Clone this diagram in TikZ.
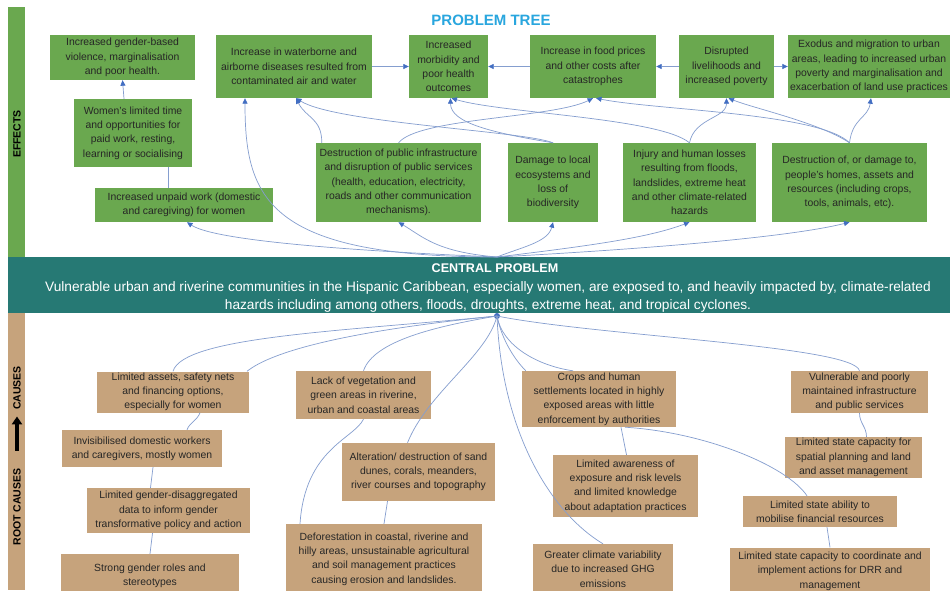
\documentclass[tikz,border=0pt]{standalone}
\usepackage{fontspec}
\setmainfont{Liberation Sans}
\usetikzlibrary{arrows.meta}

\definecolor{effgreen}{RGB}{106,168,79}
\definecolor{causetan}{RGB}{198,163,124}
\definecolor{coreteal}{RGB}{38,121,116}
\definecolor{titleblue}{RGB}{41,166,222}
\definecolor{linkblue}{RGB}{133,158,207}
\definecolor{tipblue}{RGB}{66,110,194}
\definecolor{boxtext}{RGB}{38,38,38}
\newcommand{\BoxFont}{\fontsize{10.4}{14.3}\selectfont}

\tikzset{
  effect/.style={fill=effgreen, text=boxtext, font=\BoxFont, align=center, inner sep=1pt},
  cause/.style={fill=causetan, text=boxtext, font=\BoxFont, align=center, inner sep=1pt},
  rootline/.style={draw=linkblue, line width=0.7pt},
  effectline/.style={rootline, -{Triangle[length=5.5pt,width=5pt,color=tipblue]}},
  sidelabel/.style={rotate=90, font=\bfseries\fontsize{10.5}{12}\selectfont}
}

\begin{document}
\begin{tikzpicture}[x=1pt, y=-1pt]
\clip (0,0) rectangle (950,590);
\fill[white] (0,0) rectangle (950,590);

% side bars and central band
\fill[effgreen] (8,7) rectangle (25,257);
\fill[coreteal] (8,257) rectangle (950,313);
\fill[causetan] (8,313) rectangle (25,590);
\node[sidelabel] (efflbl) at (17,134) {EFFECTS};
\node[sidelabel] (causelbl) at (17,388) {CAUSES};
\node[sidelabel] (rootlbl) at (17,507) {ROOT CAUSES};
\draw[line width=4pt, -{Triangle[length=8pt,width=10pt]}, shorten <=14pt, shorten >=3pt] (rootlbl.east) -- (causelbl.west);

\node[font=\bfseries\fontsize{15}{18}\selectfont, text=titleblue] (title) at (491,20) {PROBLEM TREE};

\node[text=white, align=center, font=\fontsize{13.7}{18.5}\selectfont] (core) at (488,288.5)
  {{\bfseries\fontsize{12.6}{18.5}\selectfont\hspace*{14pt}CENTRAL PROBLEM}\\
   Vulnerable urban and riverine communities in the Hispanic Caribbean, especially women, are exposed to, and heavily impacted by, climate-related\\
   hazards including among others, floods, droughts, extreme heat, and tropical cyclones.};
\coordinate (hubtop) at (497,257);
\coordinate (hubbot) at (497,316);

% effects, top row
\node[effect, minimum width=145, minimum height=45] (gbv) at (122.5,57.5)
  {Increased gender-based\\violence, marginalisation\\and poor health.};
\node[effect, minimum width=156, minimum height=63] (disease) at (294,66.5)
  {Increase in waterborne and\\airborne diseases resulted from\\contaminated air and water};
\node[effect, minimum width=79, minimum height=63] (morbid) at (448.5,66.5)
  {Increased\\morbidity and\\poor health\\outcomes};
\node[effect, minimum width=126, minimum height=63] (prices) at (593,66.5)
  {Increase in food prices\\and other costs after\\catastrophes};
\node[effect, minimum width=95, minimum height=63] (liveli) at (726.5,66.5)
  {Disrupted\\livelihoods and\\increased poverty};
\node[effect, minimum width=162, minimum height=63] (exodus) at (869,66.5)
  {Exodus and migration to urban\\areas, leading to increased urban\\poverty and marginalisation and\\exacerbation of land use practices};

% effects, lower rows
\node[effect, minimum width=118, minimum height=68] (womtime) at (133,133)
  {Women's limited time\\and opportunities for\\paid work, resting,\\learning or socialising};
\node[effect, minimum width=178, minimum height=34] (unpaid) at (184,205)
  {Increased unpaid work (domestic\\and caregiving) for women};
\node[effect, minimum width=165, minimum height=79] (infra) at (398.5,182.5)
  {Destruction of public infrastructure\\and disruption of public services\\(health, education, electricity,\\roads and other communication\\mechanisms).};
\node[effect, minimum width=90, minimum height=79] (ecosys) at (553,182.5)
  {Damage to local\\ecosystems and\\loss of\\biodiversity};
\node[effect, minimum width=133, minimum height=79] (injury) at (689.5,182.5)
  {Injury and human losses\\resulting from floods,\\landslides, extreme heat\\and other climate-related\\hazards};
\node[effect, minimum width=155, minimum height=79] (homes) at (849.5,182.5)
  {Destruction of, or damage to,\\people's homes, assets and\\resources (including crops,\\tools, animals, etc).};

% causes
\node[cause, minimum width=152, minimum height=41] (assets) at (173,392)
  {Limited assets, safety nets\\and financing options,\\especially for women};
\node[cause, minimum width=160, minimum height=37] (domestic) at (142,448.5)
  {Invisibilised domestic workers\\and caregivers, mostly women};
\node[cause, minimum width=163, minimum height=45] (data) at (168.5,510.5)
  {Limited gender-disaggregated\\data to inform gender\\transformative policy and action};
\node[cause, minimum width=178, minimum height=44] (roles) at (150,576)
  {Strong gender roles and\\stereotypes};
\node[cause, minimum width=135, minimum height=48] (veget) at (363.5,395)
  {Lack of vegetation and\\green areas in riverine,\\urban and coastal areas};
\node[cause, minimum width=153, minimum height=58] (dunes) at (418.5,472)
  {Alteration/ destruction of sand\\dunes, corals, meanders,\\river courses and topography};
\node[cause, minimum width=196, minimum height=70] (forest) at (384,559)
  {Deforestation in coastal, riverine and\\hilly areas, unsustainable agricultural\\and soil management practices\\causing erosion and landslides.};
\node[cause, minimum width=154, minimum height=56] (settle) at (599,399)
  {Crops and human\\settlements located in highly\\exposed areas with little\\enforcement by authorities};
\node[cause, minimum width=145, minimum height=62] (aware) at (625.5,486)
  {Limited awareness of\\exposure and risk levels\\and limited knowledge\\about adaptation practices};
\node[cause, minimum width=140, minimum height=50] (climvar) at (603,569)
  {Greater climate variability\\due to increased GHG\\emissions};
\node[cause, minimum width=137, minimum height=42] (vulinfra) at (859.5,392)
  {Vulnerable and poorly\\maintained infrastructure\\and public services};
\node[cause, minimum width=137, minimum height=41] (spatial) at (853.5,457.5)
  {Limited state capacity for\\spatial planning and land\\and asset management};
\node[cause, minimum width=154, minimum height=31] (finance) at (820,511.5)
  {Limited state ability to\\mobilise financial resources};
\node[cause, minimum width=200, minimum height=47] (coord) at (830,571)
  {Limited state capacity to coordinate and\\implement actions for DRR and\\management};

% central problem to effects
\draw[effectline] (hubtop) .. controls +(-120,-5) and +(30,20) .. ([xshift=3]unpaid.south);
\draw[effectline] (hubtop) .. controls +(-230,0) and +(0,100) .. ([xshift=-49]disease.south);
\draw[effectline] (hubtop) .. controls +(-60,-5) and +(25,15) .. (infra.south);
\draw[effectline] (hubtop) .. controls +(25,-10) and +(-5,20) .. (ecosys.south);
\draw[effectline] (hubtop) .. controls +(100,-12) and +(-40,15) .. (injury.south);
\draw[effectline] (hubtop) .. controls +(150,-8) and +(-60,15) .. (homes.south);

% effects to effects
\draw[rootline] ([xshift=-16]unpaid.north) -- ([xshift=35]womtime.south);
\draw[effectline] ([xshift=-9]womtime.north) -- (gbv.south);
\draw[effectline] ([xshift=6]infra.north west) .. controls +(0,-25) and +(10,20) .. ([xshift=2]disease.south);
\draw[effectline] (ecosys.north) .. controls +(-30,-12) and +(40,25) .. ([xshift=2]disease.south);
\draw[effectline] (ecosys.north) .. controls +(-60,-10) and +(0,25) .. ([xshift=2]morbid.south);
\draw[effectline] (injury.north) .. controls +(-30,-25) and +(50,15) .. ([xshift=3]morbid.south);
\draw[effectline] (infra.north) .. controls +(20,-25) and +(-40,20) .. (prices.south);
\draw[effectline] (homes.north) .. controls +(-30,-30) and +(60,12) .. ([xshift=3]prices.south);
\draw[effectline] (injury.north) .. controls +(5,-25) and +(0,20) .. (liveli.south);
\draw[effectline] (homes.north) .. controls +(-30,-20) and +(25,10) .. ([xshift=2]liveli.south);
\draw[effectline] (homes.north) .. controls +(3,-25) and +(-3,20) .. ([xshift=2]exodus.south);
\foreach \src/\dst in {disease/morbid, prices/morbid, liveli/prices, liveli/exodus}
  \draw[effectline] (\src) -- (\dst);

% central problem to causes
\fill[tipblue] (hubbot) circle (3);
\draw[rootline] (hubbot) .. controls +(-150,15) and +(10,-35) .. (assets.north);
\draw[rootline] (hubbot) .. controls +(-150,15) and +(25,-20) .. ([xshift=74]assets.north);
\draw[rootline] (hubbot) .. controls +(-60,10) and +(10,-30) .. (veget.north);
\draw[rootline] (hubbot) .. controls +(-10,40) and +(20,-50) .. ([xshift=-11]dunes.north);
\draw[rootline] (hubbot) .. controls +(5,120) and +(-50,-30) .. (climvar.north);
\draw[rootline] (hubbot) .. controls +(5,25) and +(-10,-10) .. ([xshift=4]settle.north west);
\draw[rootline] (hubbot) .. controls +(5,30) and +(-35,-5) .. ([xshift=-26]settle.north);
\draw[rootline] (hubbot) .. controls +(100,20) and +(-5,-25) .. (vulinfra.north);

% causes to causes
\draw[rootline] ([xshift=27]assets.south) .. controls +(-3,8) and +(3,-8) .. ([xshift=45]domestic.north);
\draw[rootline] ([xshift=11]domestic.south) -- ([xshift=-18]data.north);
\draw[rootline] ([xshift=-16]data.south) -- (roles.north);
\draw[rootline] (veget.south) .. controls +(-10,20) and +(5,-75) .. ([xshift=-84]forest.north);
\draw[rootline] ([xshift=-31]dunes.south) -- (forest.north);
\draw[rootline] ([xshift=22]settle.south) .. controls +(2,10) and +(-2,-10) .. ([xshift=1]aware.north);
\draw[rootline] ([xshift=26]settle.south) .. controls +(80,5) and +(-20,-30) .. ([xshift=-13]finance.north);
\draw[rootline] (vulinfra.south) .. controls +(0,10) and +(0,-10) .. ([xshift=13]spatial.north);
\draw[rootline] ([xshift=7]finance.south) -- (coord.north);
\end{tikzpicture}
\end{document}
